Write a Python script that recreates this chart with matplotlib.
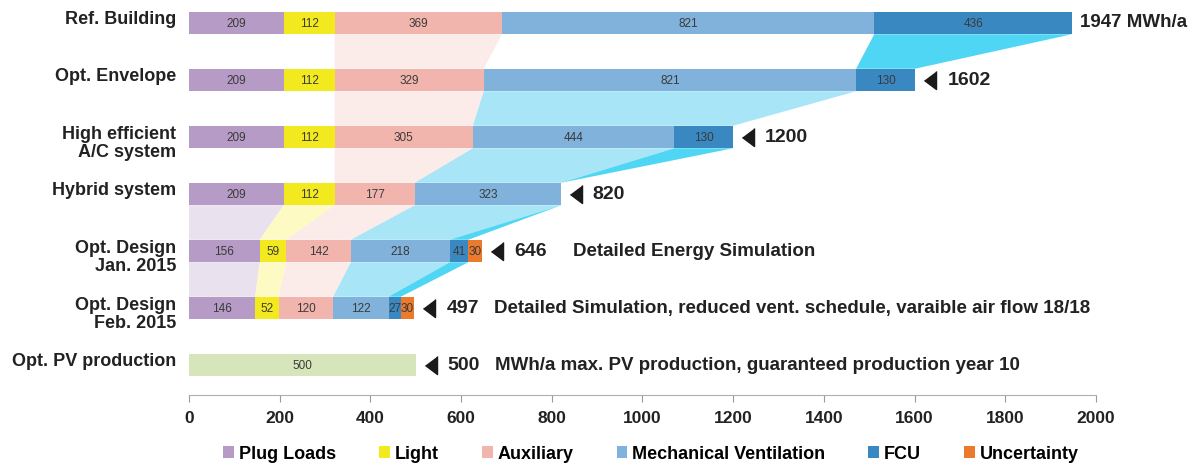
import matplotlib
matplotlib.use("Agg")
import matplotlib.pyplot as plt
from matplotlib.patches import Patch, Polygon
import numpy as np

plt.rcParams['font.family'] = ['Liberation Sans', 'DejaVu Sans']

# energy demand per design stage, MWh/a
stages = ['Ref. Building', 'Opt. Envelope', 'High efficient\nA/C system', 'Hybrid system',
          'Opt. Design\nJan. 2015', 'Opt. Design\nFeb. 2015', 'Opt. PV production']
plug_loads = [209, 209, 209, 209, 156, 146]
light = [112, 112, 112, 112, 59, 52]
auxiliary = [369, 329, 305, 177, 142, 120]
mech_vent = [821, 821, 444, 323, 218, 122]
fcu = [436, 130, 130, 0, 41, 27]
uncertainty = [0, 0, 0, 0, 30, 30]
pv_production = 500
totals = [1947, 1602, 1200, 820, 646, 497, 500]
notes = ['', '', '', '', 'Detailed Energy Simulation',
         'Detailed Simulation, reduced vent. schedule, varaible air flow 18/18',
         'MWh/a max. PV production, guaranteed production year 10']

series = ['Plug Loads', 'Light', 'Auxiliary', 'Mechanical Ventilation', 'FCU', 'Uncertainty']
colors = ['#B59BC5', '#F2EA1F', '#F2B5AE', '#80B2DB', '#3A88C2', '#EC7A2C']
link_colors = ['#E9E1EE', '#FEFAC4', '#FBEBE9', '#A8E5F6', '#4FD6F4', '#F8C9A8']
pv_color = '#D6E5BA'
text_color = '#222222'

# (upper row, segments at upper bar, segments at lower bar)
links = [(0, (2, 2), (2, 2)), (0, (4, 4), (4, 4)),
         (1, (2, 2), (2, 2)), (1, (3, 3), (3, 4)),
         (2, (2, 2), (2, 2)), (2, (3, 3), (3, 3)), (2, (4, 4), (4, 4)),
         (3, (0, 0), (0, 0)), (3, (1, 1), (1, 1)), (3, (2, 2), (2, 2)),
         (3, (3, 3), (3, 3)), (3, (4, 4), (4, 4)),
         (4, (0, 0), (0, 0)), (4, (1, 1), (1, 1)), (4, (2, 2), (2, 2)),
         (4, (3, 3), (3, 3)), (4, (4, 4), (4, 4))]
note_offset = [0, 0, 0, 0, 200, 175, 175]

data = np.array([plug_loads, light, auxiliary, mech_vent, fcu, uncertainty], dtype=float)
n_rows = data.shape[1]
ends = np.cumsum(data, axis=0)
starts = ends - data
bar_h = 0.395

fig = plt.figure(figsize=(11.9, 4.64), dpi=100)
ax = fig.add_axes([0.1588, 0.1466, 0.7622, 0.8534])

for k in range(len(series)):
    ax.barh(np.arange(n_rows), data[k], left=starts[k], height=bar_h,
            color=colors[k], edgecolor='none', zorder=3, label=series[k])
    for r in range(n_rows):
        if data[k, r] > 0:
            ax.text(starts[k, r] + data[k, r] / 2, r, f'{int(data[k, r])}',
                    ha='center', va='center', fontsize=8.5, color='#3a3a3a', zorder=5)

ax.barh(n_rows, pv_production, height=bar_h, color=pv_color, edgecolor='none', zorder=3)
ax.text(pv_production / 2, n_rows, f'{pv_production}', ha='center', va='center',
        fontsize=8.5, color='#3a3a3a', zorder=5)

# shaded bands between consecutive stages
for r, (a0, a1), (b0, b1) in links:
    y_top = r + bar_h / 2
    y_bot = r + 1 - bar_h / 2
    poly = Polygon([(starts[a0, r], y_top), (ends[a1, r], y_top),
                    (ends[b1, r + 1], y_bot), (starts[b0, r + 1], y_bot)],
                   closed=True, facecolor=link_colors[a0], edgecolor='none', zorder=1)
    ax.add_patch(poly)

# totals with pointer marks
tri = [(1, 1.5), (1, -1.5), (-1, 0)]
for r, tot in enumerate(totals):
    if r == 0:
        ax.annotate(f'{tot} MWh/a', (tot, r), xytext=(6, 1), textcoords='offset points',
                    ha='left', va='center', fontsize=13.5, fontweight='bold', color=text_color)
        continue
    ax.plot(tot + 33, r, marker=tri, markersize=13, color='#1a1a1a', zorder=4)
    ax.annotate(f'{tot}', (tot, r), xytext=(23, 0), textcoords='offset points',
                ha='left', va='center', fontsize=14, fontweight='bold', color=text_color)
    if notes[r]:
        ax.text(tot + note_offset[r], r, notes[r], ha='left', va='center',
                fontsize=13.5, fontweight='bold', color=text_color)

# stage names, single lines sit a little above the bar centre
for r, name in enumerate(stages):
    dy = -4 if '\n' in name else 3
    ax.annotate(name, (0, r), xytext=(-9, dy), textcoords='offset points',
                ha='right', va='center', fontsize=13, fontweight='bold',
                color=text_color, linespacing=1.05, annotation_clip=False)

ax.set_xlim(0, 2000)
ax.set_ylim(6.526, -0.421)
ax.set_xticks(np.arange(0, 2001, 200))
ax.set_yticks([])
ax.tick_params(axis='x', labelsize=12.5, colors='#9a9a9a', length=5, pad=6)
for lbl in ax.get_xticklabels():
    lbl.set_fontweight('bold')
    lbl.set_color(text_color)
for s in ['top', 'right', 'left']:
    ax.spines[s].set_visible(False)
ax.spines['bottom'].set_color('#b0b0b0')

handles = [Patch(facecolor=c, edgecolor='none') for c in colors]
fig.legend(handles, series, loc='center', bbox_to_anchor=(0.547, 0.02), ncol=6,
           frameon=False, handlelength=0.6, handleheight=0.6, handletextpad=0.25,
           columnspacing=2.4, prop={'size': 13, 'weight': 'bold'})

fig.savefig('out.png', dpi=100)
